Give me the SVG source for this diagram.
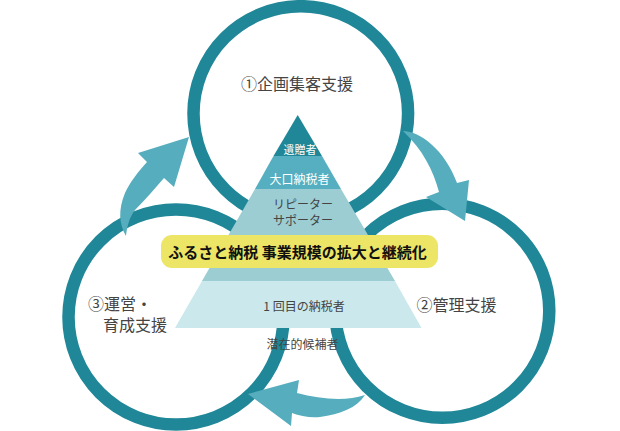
<svg xmlns="http://www.w3.org/2000/svg" width="620" height="431" viewBox="0 0 620 431">
<style>
text{font-family:"Noto Sans CJK JP","Liberation Sans",sans-serif;fill:#444;text-anchor:middle}
.ring{fill:none;stroke:#1f8797;stroke-width:12.5}
.arrow{fill:#56adbd}
.lbl{font-size:16px}
.p{font-size:12px}
.w{fill:#fff}
</style>
<rect width="620" height="431" fill="#fff"/>
<g id="circles">
<circle id="circle-top" class="ring" cx="300.800" cy="113.500" r="107.300"/>
<circle id="circle-left" class="ring" cx="176" cy="317" r="107.500"/>
<circle id="circle-right" class="ring" cx="442.300" cy="310.800" r="107"/>
</g>
<g id="connectors">
<path class="arrow" d="M403 131C420 131 445 150 457 183L469 180L465 221L426 197L439 192C433 170 423 150 403 131Z"/>
<path class="arrow" d="M126 236C119 224 118 210 125 193C130 182 138 172 147 162L138 153L189 137L174 187L164 178C155 188 146 199 135 210C129 218 127 227 126 236Z"/>
<path class="arrow" d="M248 394L299 380L297 393C320 399 345 402 365 395C357 408 340 414 320 417C310 418 300 416 292 413L291 426Z"/>
</g>
<g id="pyramid">
<g id="tier-1"><polygon points="297.700,115 322,156 273.500,156" fill="#1f8797"/><text class="w" x="300" y="154" style="font-size:11px">遺贈者</text></g>
<g id="tier-2"><polygon points="273.500,156 322,156 341,189 255,189" fill="#55afc0"/><text class="p w" x="299.500" y="184">大口納税者</text></g>
<g id="tier-3"><polygon points="255,189 341,189 395,281 202,281" fill="#9bcdd3"/><text class="p" x="303" y="209">リピーター</text><text class="p" x="303" y="225">サポーター</text></g>
<g id="tier-4"><polygon points="202,281 395,281 421.500,328 175,328" fill="#cbe8ec"/><text class="p" x="304" y="311">1 回目の納税者</text></g>
</g>
<g id="banner"><rect x="161" y="235" width="277" height="33" rx="11" fill="#ede565"/><text x="297.500" y="258" style="font-size:15px;font-weight:700;fill:#111">ふるさと納税 事業規模の拡大と継続化</text></g>
<g id="label-top"><text class="lbl" x="297" y="90">①企画集客支援</text></g>
<g id="label-right"><text class="lbl" x="456.500" y="311">②管理支援</text></g>
<g id="label-left"><text class="lbl" x="120" y="310">③運営・</text><text class="lbl" x="135" y="331">育成支援</text></g>
<g id="label-latent"><text class="p" x="302.500" y="349">潜在的候補者</text></g>
</svg>
